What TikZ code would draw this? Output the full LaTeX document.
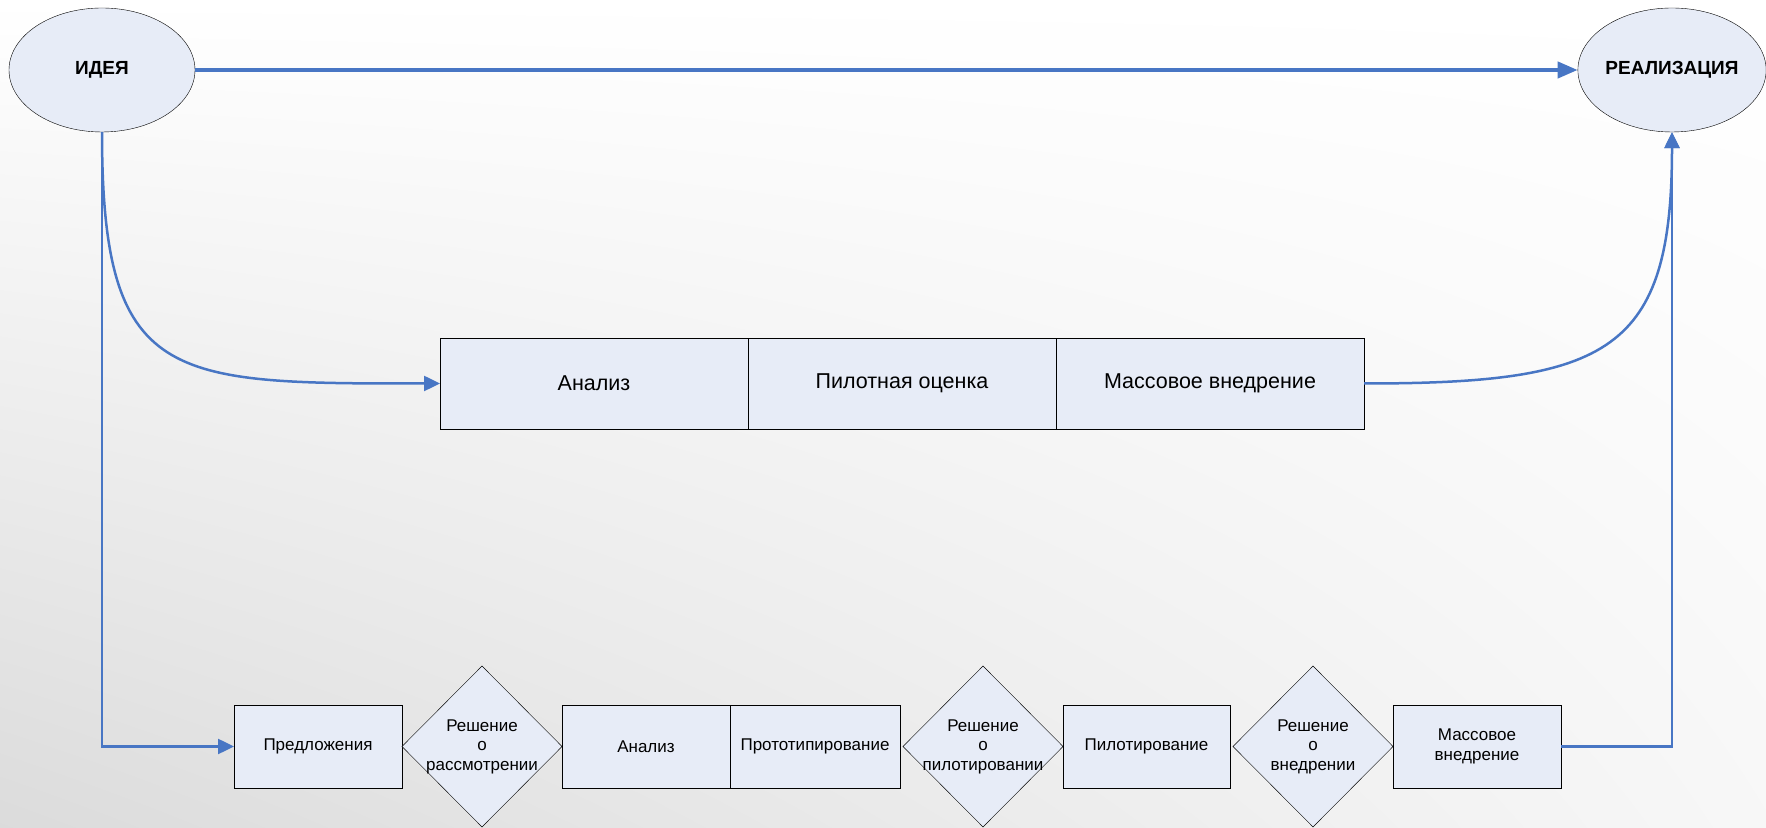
\documentclass[tikz,border=0pt]{standalone}
\usepackage{fontspec}
\setmainfont{Liberation Sans}
\usetikzlibrary{arrows.meta,positioning,shapes.geometric,shadings}
\definecolor{flowblue}{RGB}{72,118,196}
\definecolor{cellfill}{RGB}{231,236,247}

\begin{document}
\begin{tikzpicture}[
  x=1pt, y=1pt,
  node distance=0pt,
  goal/.style={draw=black, ellipse, fill=cellfill, minimum width=186pt, minimum height=124pt, inner sep=0pt, font=\fontsize{19}{22}\selectfont\bfseries},
  stage/.style={draw=black, rectangle, fill=cellfill, minimum width=308pt, minimum height=91pt, inner sep=0pt, outer sep=0pt, font=\fontsize{21.5}{25}\selectfont},
  block/.style={draw=black, rectangle, fill=cellfill, minimum width=168pt, minimum height=83pt, inner sep=0pt, outer sep=0pt, align=center, font=\fontsize{17}{20}\selectfont},
  decision/.style={draw=black, diamond, fill=cellfill, minimum width=160pt, minimum height=161pt, inner sep=-8pt, outer sep=0pt, align=center, font=\fontsize{17}{19.5}\selectfont},
  edge/.style={-{Triangle[length=16pt,width=15pt]}, draw=flowblue, line width=2.5pt},
  mainedge/.style={-{Triangle[length=20pt,width=16pt]}, draw=flowblue, line width=4pt}
]
  % background
  \useasboundingbox (0,0) rectangle (1766,827);
  \shade[upper left=white, upper right=white, lower right=gray!6, lower left=gray!28] (0,0) rectangle (1766,827);

  \node[goal] (idea) at (102,757) {ИДЕЯ};
  \node[goal] (real) at (1672,757) {РЕАЛИЗАЦИЯ};

  % middle track
  \node[stage] (analysis) at (594,443.5) {Анализ};
  \node[stage, right=of analysis] (pilot) {Пилотная оценка};
  \node[stage, right=of pilot] (rollout) {Массовое внедрение};

  % bottom track
  \node[block] (proposals) at (318,80.5) {Предложения};
  \node[decision, right=of proposals] (review) {Решение\\о\\рассмотрении};
  \node[block, right=of review] (study) {Анализ};
  \node[block, minimum width=170pt, right=of study] (prototype) {Прототипирование};
  \node[decision, right=3pt of prototype] (pilotdec) {Решение\\о\\пилотировании};
  \node[block, minimum width=167pt, right=of pilotdec] (piloting) {Пилотирование};
  \node[decision, right=3pt of piloting] (rolldec) {Решение\\о\\внедрении};
  \node[block, right=of rolldec] (massrun) {Массовое\\внедрение};

  \draw[mainedge] (idea) -- (real);
  \draw[edge] (idea.south) .. controls +(0,-252) and +(-271,0) .. (analysis.west);
  \draw[edge] (rollout.east) .. controls +(245,0) and +(0,-220) .. (real.south);
  \draw[edge] (idea.south) -- (idea.south |- proposals.west) -- (proposals.west);
  \draw[edge] (massrun.east) -- (massrun.east -| real.south) -- (real.south);
\end{tikzpicture}
\end{document}
